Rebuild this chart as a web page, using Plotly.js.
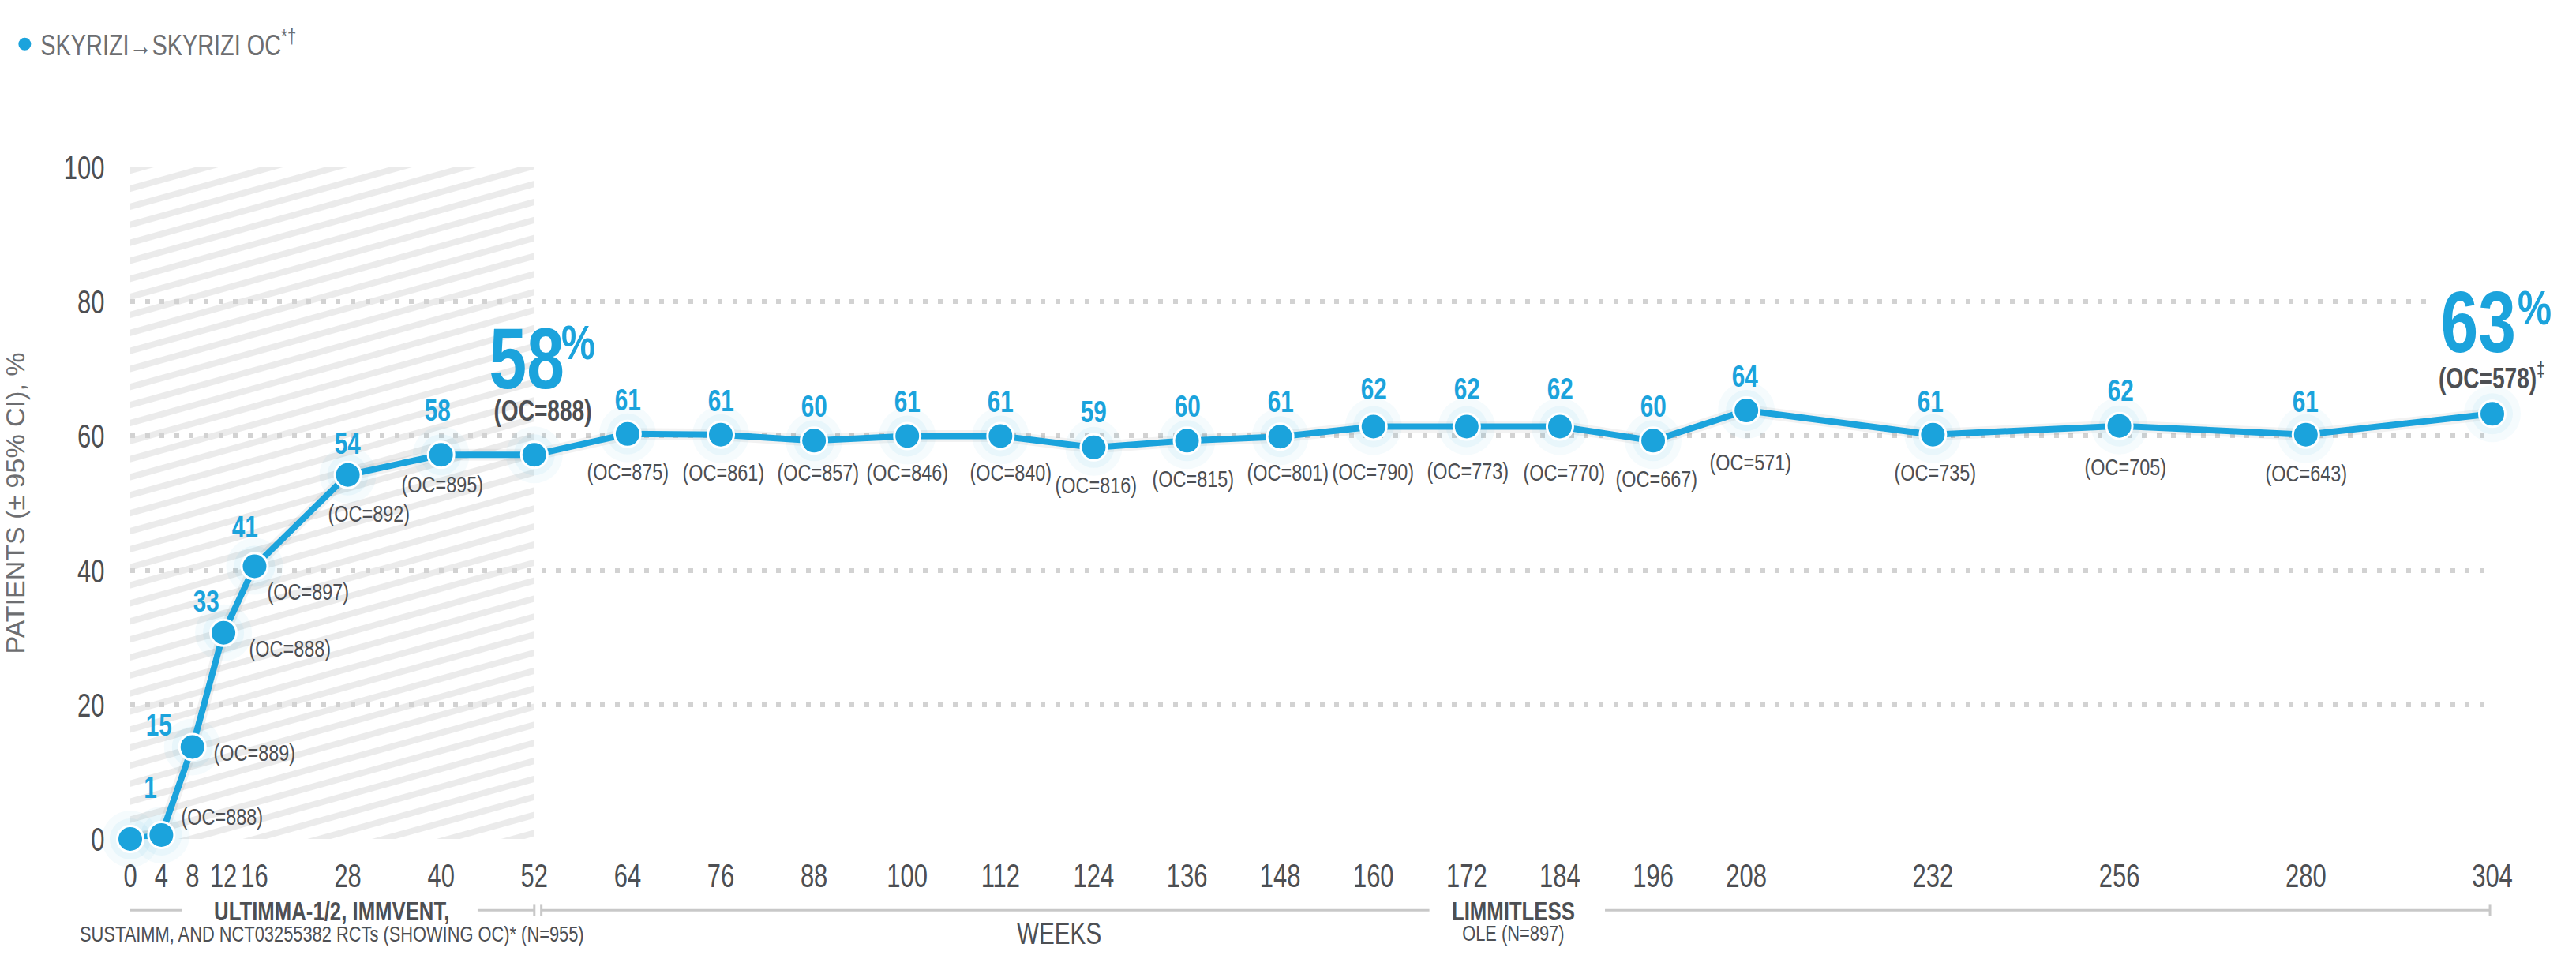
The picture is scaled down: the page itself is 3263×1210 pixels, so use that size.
<!DOCTYPE html>
<html>
<head>
<meta charset="utf-8">
<script src="https://cdn.plot.ly/plotly-3.0.1.min.js"></script>
<style>
  html, body { margin: 0; padding: 0; background: #fff; }
  #chart { width: 3263px; height: 1210px; }
</style>
</head>
<body>
<div id="chart"></div>
<script>
// data
const weeks = [0, 4, 8, 12, 16, 28, 40, 52, 64, 76, 88, 100, 112, 124, 136, 148, 160, 172, 184, 196, 208, 232, 256, 280, 304];
const pctValues = [0, 0.6, 13.7, 30.7, 40.6, 54.2, 57.2, 57.2, 60.3, 60.2, 59.3, 60.0, 60.0, 58.3, 59.3, 59.9, 61.4, 61.4, 61.4, 59.3, 63.8, 60.2, 61.5, 60.2, 63.3];
const pctLabels = ['', '1', '15', '33', '41', '54', '58', '58%', '61', '61', '60', '61', '61', '59', '60', '61', '62', '62', '62', '60', '64', '61', '62', '61', '63%'];
const ocCounts = [null, 888, 889, 888, 897, 892, 895, 888, 875, 861, 857, 846, 840, 816, 815, 801, 790, 773, 770, 667, 571, 735, 705, 643, 578];
const ocMarks = ['', '', '', '', '', '', '', '', '', '', '', '', '', '', '', '', '', '', '', '', '', '', '', '', '‡'];
const seriesName = 'SKYRIZI→SKYRIZI OC<sup>*†</sup>';
const yTickVals = [0, 20, 40, 60, 80, 100];

const BLUE = '#1ba3dc';
const DARK = '#4d4f53';
const GREY = '#6d6e71';
const FONT = '"Liberation Sans", Arial, sans-serif';
const SQUEEZE = 0.78;      // no condensed face installed, so narrow the glyphs after drawing
const TICK_SQUEEZE = 0.72;

// label offsets in px (dx, dy), dy down
const valueOffsets = [[0,0],[-14,-60],[-43,-27],[-22,-40],[-12,-49],[-1,-40],[-5,-56],[0,0],
  [0,-43],[0,-43],[0,-43],[0,-43],[0,-43],[0,-45],[0,-43],[0,-44],[0,-47],[0,-47],[0,-47],[0,-43],[-2,-43],[-3,-42],[1,-45],[-1,-42],[0,0]];
const ocOffsets = [[0,0],[77,-23],[79,7],[84,20],[68,32],[27,49],[2,37],[11,-56],
  [1,48],[3,48],[5,40],[0,46],[13,46],[3,48],[8,48],[10,45],[0,57],[2,56],[6,58],[4,48],[5,65],[3,48],[8,52],[1,49],[-1,-47]];
const bigIdx = [7, 24];
const bigOffsets = {7: {num: [-10, -123], pct: [56, -143]}, 24: {num: [-18, -117], pct: [53, -135]}};

const annotations = [];
weeks.forEach((wk, i) => {
    const big = bigIdx.includes(i);
    if (pctLabels[i] && !big) {
        annotations.push({
            x: wk, y: pctValues[i], xref: 'x', yref: 'y', showarrow: false,
            text: pctLabels[i], xanchor: 'center', yanchor: 'middle',
            xshift: valueOffsets[i][0], yshift: -valueOffsets[i][1],
            font: {family: FONT, size: 38, color: BLUE, weight: 700}
        });
    }
    if (big) {
        const o = bigOffsets[i];
        annotations.push({
            x: wk, y: pctValues[i], xref: 'x', yref: 'y', showarrow: false,
            text: pctLabels[i].replace('%', ''), xanchor: 'center', yanchor: 'middle',
            xshift: o.num[0], yshift: -o.num[1], bgcolor: i === 24 ? '#fff' : 'rgba(0,0,0,0)', borderpad: 4,
            font: {family: FONT, size: 110, color: BLUE, weight: 700}
        });
        annotations.push({
            x: wk, y: pctValues[i], xref: 'x', yref: 'y', showarrow: false,
            text: '%', xanchor: 'center', yanchor: 'middle',
            xshift: o.pct[0], yshift: -o.pct[1],
            font: {family: FONT, size: 62, color: BLUE, weight: 700}
        });
    }
    if (ocCounts[i] !== null) {
        annotations.push({
            x: wk, y: pctValues[i], xref: 'x', yref: 'y', showarrow: false,
            text: '(OC=' + ocCounts[i] + ')' + (ocMarks[i] ? '<sup>' + ocMarks[i] + '</sup>' : ''),
            xanchor: 'center', yanchor: 'middle',
            xshift: ocOffsets[i][0], yshift: -ocOffsets[i][1],
            font: {family: FONT, size: big ? 36 : 30, color: DARK, weight: big ? 700 : 400}
        });
    }
});

// study labels under the axis
const under = (x, y, text, size, weight) => ({
    x: x, y: y, xref: 'x', yref: 'paper', showarrow: false, text: text,
    xanchor: 'center', yanchor: 'middle',
    font: {family: FONT, size: size, color: DARK, weight: weight || 400}
});
annotations.push(
    under(26, -0.107, 'ULTIMMA-1/2, IMMVENT,', 33, 700),
    under(26, -0.142, 'SUSTAIMM, AND NCT03255382 RCTs (SHOWING OC)* (N=955)', 28),
    under(178, -0.107, 'LIMMITLESS', 33, 700),
    under(178, -0.141, 'OLE (N=897)', 28),
    under(119.5, -0.141, 'WEEKS', 38)
);

const bracket = {color: '#c8c8c8', width: 3};
const by = -0.106;
const segs = [[-0.8, 6.7], [44.7, 52.0], [52.9, 167.2], [189.8, 303.7]];
const shapes = segs.map(s => ({type: 'line', xref: 'x', yref: 'paper', x0: s[0], x1: s[1], y0: by, y1: by, line: bracket}));
[-0.8, 52.0, 52.9, 303.7].forEach(t => {
    shapes.push({type: 'line', xref: 'x', yref: 'paper', x0: t, x1: t, y0: by - 0.008, y1: by + 0.008, line: bracket});
});

// hatched RCT period
const hatchSvg = "<svg xmlns='http://www.w3.org/2000/svg' width='512' height='851' viewBox='0 0 512 851' preserveAspectRatio='none'>" +
    "<defs><pattern id='p' width='400' height='22' patternUnits='userSpaceOnUse' patternTransform='rotate(-15.6)'>" +
    "<rect y='0' width='400' height='8' fill='#ebebeb'/></pattern></defs>" +
    "<rect width='512' height='851' fill='url(#p)'/></svg>";

const traces = [
    {x: weeks, y: pctValues, mode: 'markers', hoverinfo: 'skip', showlegend: false, cliponaxis: false,
     marker: {size: 72, color: 'rgba(27,163,220,0.045)'}},
    {x: weeks, y: pctValues, mode: 'markers', hoverinfo: 'skip', showlegend: false, cliponaxis: false,
     marker: {size: 52, color: 'rgba(27,163,220,0.06)'}},
    {x: weeks, y: pctValues, mode: 'lines', hoverinfo: 'skip', showlegend: false, cliponaxis: false,
     line: {color: 'rgba(0,0,0,0.05)', width: 15}},
    {x: weeks, y: pctValues, mode: 'lines+markers', name: seriesName, showlegend: false, cliponaxis: false,
     line: {color: BLUE, width: 8},
     marker: {size: 33, color: BLUE, line: {color: '#fff', width: 3}}},
    {x: [null], y: [null], mode: 'markers', name: seriesName, showlegend: true,
     marker: {size: 19, color: BLUE}}
];

const layout = {
    width: 3263, height: 1210,
    margin: {l: 164, r: 106, t: 212, b: 147},
    paper_bgcolor: '#fff', plot_bgcolor: '#fff',
    showlegend: true,
    legend: {x: -0.051, xanchor: 'left', y: 1.183, yanchor: 'middle', itemwidth: 30,
             font: {family: FONT, size: 37, color: GREY}},
    xaxis: {range: [0, 304], tickvals: weeks, ticktext: weeks.map(String), tickangle: 0,
            showgrid: false, zeroline: false, showline: false,
            ticks: 'outside', ticklen: 8, tickcolor: 'rgba(0,0,0,0)',
            tickfont: {family: FONT, size: 43, color: DARK}},
    yaxis: {range: [0, 100], tickvals: yTickVals, zeroline: false, showline: false,
            showgrid: true, gridcolor: '#d2d2d2', gridwidth: 6, griddash: '6px,12.6px',
            ticks: 'outside', ticklen: 23, tickcolor: 'rgba(0,0,0,0)',
            tickfont: {family: FONT, size: 43, color: DARK},
            title: {text: 'PATIENTS (± 95% CI), %', standoff: 18,
                    font: {family: FONT, size: 34, color: GREY}}},
    images: [{source: 'data:image/svg+xml;charset=utf-8,' + encodeURIComponent(hatchSvg),
              xref: 'x', yref: 'y', x: 0, y: 100, sizex: 52, sizey: 100,
              xanchor: 'left', yanchor: 'top', sizing: 'stretch', layer: 'below'}],
    shapes: shapes,
    annotations: annotations
};

Plotly.newPlot('chart', traces, layout, {staticPlot: true}).then(gd => {
    gd.querySelectorAll('text').forEach(t => {
        if (t.classList.contains('ytitle')) return;
        const isTick = t.parentNode && (t.parentNode.classList.contains('xtick') || t.parentNode.classList.contains('ytick'));
        const w = t.getComputedTextLength();
        if (w > 0) {
            t.setAttribute('textLength', (w * (isTick ? TICK_SQUEEZE : SQUEEZE)).toFixed(1));
            t.setAttribute('lengthAdjust', 'spacingAndGlyphs');
        }
    });
});
</script>
</body>
</html>
